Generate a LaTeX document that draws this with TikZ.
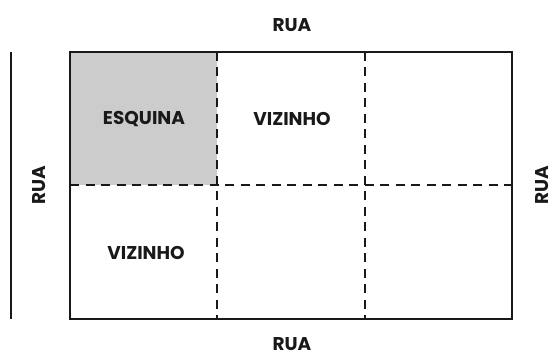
\documentclass[tikz,border=0pt]{standalone}
\usepackage{fontspec}
\setmainfont{Poppins}
\usetikzlibrary{positioning}

\begin{document}
\begin{tikzpicture}[x=1pt,y=-1pt,
    rotulo/.style={font=\fontsize{18.5}{18.5}\selectfont\bfseries, text=black!90, inner sep=1pt},
    divisa/.style={line width=1.8pt, dash pattern=on 9pt off 6.5pt, black!90}]
  \useasboundingbox (0,0) rectangle (555,358);
  \fill[black!20] (70,52) rectangle (217.3,185);
  \draw[divisa] (70,185) -- (512,185);
  \draw[divisa] (217.3,52) -- (217.3,319);
  \draw[divisa] (364.6,52) -- (364.6,319);
  \draw[line width=2pt, black!90] (70,52) rectangle (512,319);
  \draw[line width=2pt, black!90] (11,52) -- (11,319);
  \node[rotulo] (esquina) at (144,119) {ESQUINA};
  \node[rotulo] (vizinhoA) at (292,119) {VIZINHO};
  \node[rotulo] (vizinhoB) at (146,253) {VIZINHO};
  \node[rotulo] (ruaN) at (292,25) {RUA};
  \node[rotulo] (ruaS) at (292,344) {RUA};
  \node[rotulo, rotate=90] (ruaO) at (39,185) {RUA};
  \node[rotulo, rotate=90] (ruaL) at (542,185) {RUA};
\end{tikzpicture}
\end{document}
